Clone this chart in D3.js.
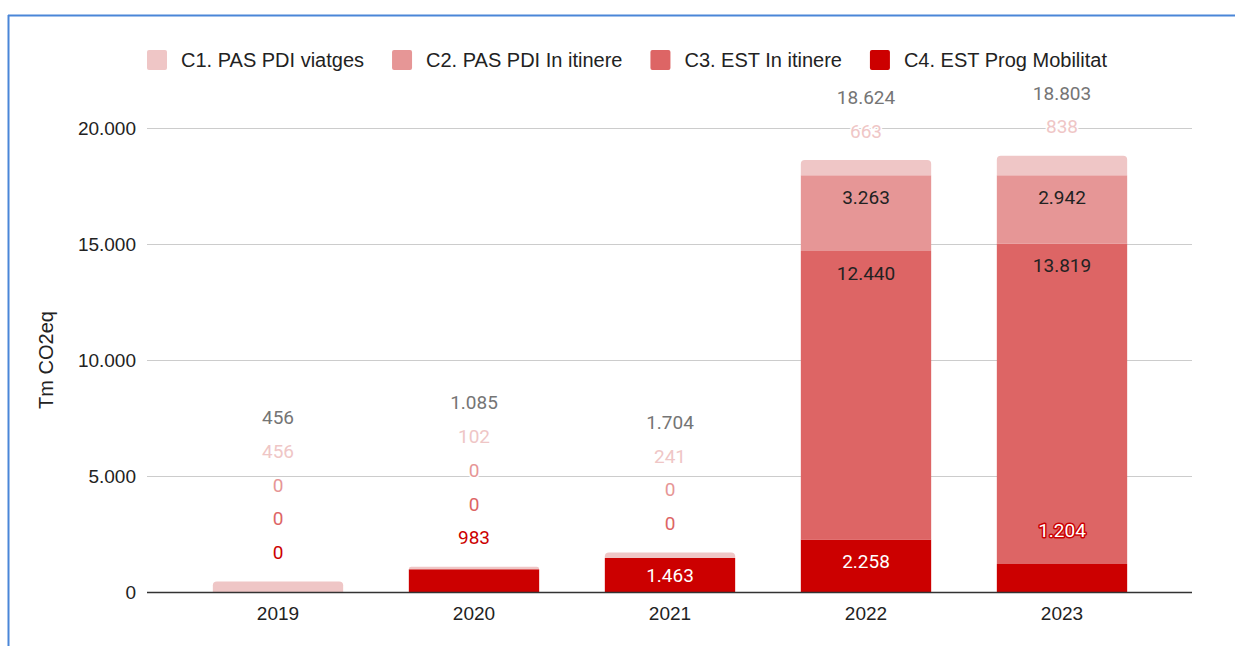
<!DOCTYPE html>
<html>
<head>
<meta charset="utf-8">
<title>Tm CO2eq</title>
<script src="https://cdnjs.cloudflare.com/ajax/libs/d3/7.8.5/d3.min.js"></script>
<style>
  body { margin: 0; background: #fff; }
  svg { display: block; }
  .lbl { font-family: Roboto, sans-serif; font-size: 19px; }
  .ax { font-family: "Liberation Sans", Arial, sans-serif; }
</style>
</head>
<body>
<svg id="svg" width="1235" height="646"></svg>
<script>
// data
const years = ['2019', '2020', '2021', '2022', '2023']
const seriesNames = ['C1. PAS PDI viatges', 'C2. PAS PDI In itinere', 'C3. EST In itinere', 'C4. EST Prog Mobilitat']
const c1 = [456, 102, 241, 663, 838]
const c2 = [0, 0, 0, 3263, 2942]
const c3 = [0, 0, 0, 12440, 13819]
const c4 = [0, 983, 1463, 2258, 1204]
const yTicks = [0, 5000, 10000, 15000, 20000]

const colors = ['#efc6c6', '#e69696', '#dd6565', '#cc0000']
const insideText = ['#222', '#222', '#222', '#fff']

const svg = d3.select('#svg')
const fmt = d3.formatLocale({decimal: ',', thousands: '.', grouping: [3], currency: ['', '']}).format(',d')

const left = 147, right = 1192
const y = d3.scaleLinear().domain([0, 20000]).range([592, 128])
const x = d3.scaleBand().domain(years).range([180, 1160]).paddingInner(0.335).paddingOuter(0.1675)

// frame
svg.append('line').attr('x1', 8.5).attr('x2', 8.5).attr('y1', 15).attr('y2', 646)
  .attr('stroke', '#4a86d8').attr('stroke-width', 2)
svg.append('line').attr('x1', 8).attr('x2', 1235).attr('y1', 15.5).attr('y2', 15.5)
  .attr('stroke', '#4a86d8').attr('stroke-width', 2)

// grid + y axis
const yAxis = svg.append('g').attr('class', 'ax')
yAxis.selectAll('line').data(yTicks.filter(d => d > 0)).join('line')
  .attr('x1', left).attr('x2', right)
  .attr('y1', d => Math.round(y(d)) + 0.5).attr('y2', d => Math.round(y(d)) + 0.5)
  .attr('stroke', '#cccccc')
yAxis.selectAll('text').data(yTicks).join('text')
  .attr('x', 136).attr('y', d => y(d)).attr('dy', '0.35em')
  .attr('text-anchor', 'end').attr('font-size', 19).attr('fill', '#222')
  .text(d => fmt(d))

svg.append('text').attr('class', 'ax')
  .attr('transform', 'translate(53,360) rotate(-90)')
  .attr('text-anchor', 'middle').attr('font-size', 20).attr('fill', '#222')
  .text('Tm CO2eq')

// stacked bars
const table = years.map((yr, i) => ({year: yr, vals: [c4[i], c3[i], c2[i], c1[i]]}))
const order = [3, 2, 1, 0] // series index from bottom
const bars = svg.append('g')
const labels = svg.append('g').attr('class', 'lbl')

function roundTop(x0, y0, w, h, r) {
  r = Math.min(r, h)
  return `M${x0},${y0 + h}V${y0 + r}Q${x0},${y0} ${x0 + r},${y0}H${x0 + w - r}Q${x0 + w},${y0} ${x0 + w},${y0 + r}V${y0 + h}Z`
}

table.forEach(row => {
  const bx = x(row.year), bw = x.bandwidth(), cx = bx + bw / 2
  let acc = 0
  const segs = row.vals.map((v, k) => {
    const s = {v, s: order[k], y0: acc, y1: acc + v}
    acc += v
    return s
  })
  const lastNz = segs.map(s => s.v > 0).lastIndexOf(true)
  segs.forEach((s, k) => {
    if (s.v <= 0) return
    const top = y(s.y1), h = y(s.y0) - y(s.y1)
    bars.append('path')
      .attr('d', k === lastNz ? roundTop(bx, top, bw, h, 4) : `M${bx},${top}h${bw}v${h}h${-bw}Z`)
      .attr('fill', colors[s.s])
  })
  const barTop = y(acc)
  const outside = []
  segs.forEach((s, k) => {
    const top = y(s.y1), h = y(s.y0) - y(s.y1)
    if (h >= 30) {
      labels.append('text').attr('x', cx).attr('y', top + Math.min(22, h / 2)).attr('dy', '0.35em')
        .attr('text-anchor', 'middle').attr('fill', insideText[s.s]).text(fmt(s.v))
      return
    }
    const above = segs.slice(k + 1).find(t => t.v > 0)
    if (s.v > 0 && above && y(above.y0) - y(above.y1) > 60) {
      labels.append('text').attr('x', cx).attr('y', top - 34).attr('dy', '0.35em')
        .attr('text-anchor', 'middle').attr('fill', insideText[s.s])
        .attr('stroke', colors[s.s]).attr('stroke-width', 3).attr('paint-order', 'stroke')
        .attr('stroke-linejoin', 'round').text(fmt(s.v))
      return
    }
    outside.push({text: fmt(s.v), color: colors[s.s]})
  })
  outside.push({text: fmt(acc), color: '#757575'})
  outside.forEach((o, j) => {
    labels.append('text').attr('x', cx).attr('y', barTop - 29 - j * 33.75).attr('dy', '0.35em')
      .attr('text-anchor', 'middle').attr('fill', o.color)
      .attr('stroke', '#fff').attr('stroke-width', 3).attr('paint-order', 'stroke')
      .attr('stroke-linejoin', 'round').text(o.text)
  })
})

// baseline + x labels
svg.append('line').attr('x1', left).attr('x2', right).attr('y1', 592.5).attr('y2', 592.5)
  .attr('stroke', '#333').attr('stroke-width', 1.5)
svg.append('g').attr('class', 'ax').selectAll('text').data(years).join('text')
  .attr('x', d => x(d) + x.bandwidth() / 2).attr('y', 613).attr('dy', '0.35em')
  .attr('text-anchor', 'middle').attr('font-size', 19).attr('fill', '#222')
  .text(d => d)

// legend
const legend = svg.append('g').attr('class', 'ax')
let lx = 147
seriesNames.forEach((name, i) => {
  legend.append('rect').attr('x', lx).attr('y', 50).attr('width', 20).attr('height', 20)
    .attr('rx', 2).attr('fill', colors[i])
  const t = legend.append('text').attr('x', lx + 34).attr('y', 60).attr('dy', '0.35em')
    .attr('font-size', 20).attr('fill', '#222').text(name)
  lx += 34 + t.node().getComputedTextLength() + 28
})
</script>
</body>
</html>
